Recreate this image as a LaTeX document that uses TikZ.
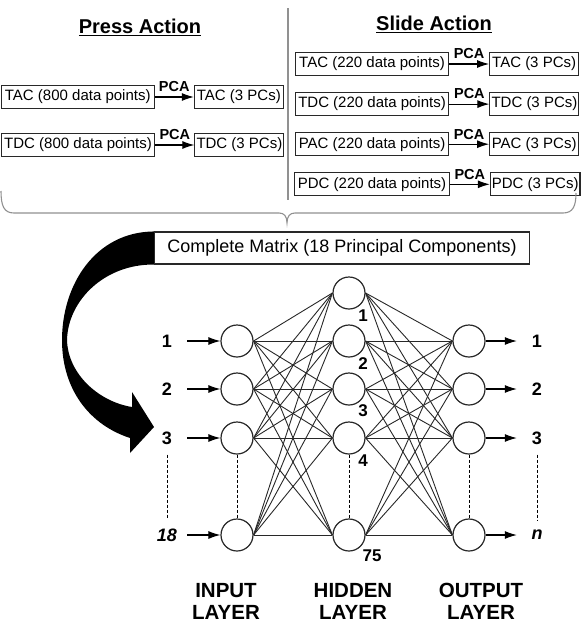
\documentclass[tikz,border=0pt]{standalone}
\usepackage{fontspec}
\setmainfont{Liberation Sans}
\usetikzlibrary{arrows.meta,positioning}
\definecolor{nnGrey}{RGB}{145,145,145}
\definecolor{nnDark}{RGB}{40,40,40}

\begin{document}
\begin{tikzpicture}[x=1pt,y=-1pt,
    every node/.style={font=\fontsize{15}{17}\selectfont},
    databox/.style={rectangle,draw=nnDark,line width=1.1pt,minimum height=23pt,
                    inner xsep=3pt,inner ysep=0pt},
    rawbox/.style={databox,minimum width=153pt},
    pcbox/.style={databox,minimum width=89pt,inner xsep=1.5pt},
    pcalab/.style={font=\fontsize{14.5}{16}\selectfont\bfseries,inner sep=1pt},
    title/.style={font=\fontsize{20}{24}\selectfont\bfseries},
    neuron/.style={circle,draw=nnDark,line width=1.2pt,minimum size=32pt,inner sep=0pt},
    numlab/.style={font=\fontsize{18}{20}\selectfont\bfseries,inner sep=0pt,minimum width=40pt},
    hidlab/.style={font=\fontsize{17}{19}\selectfont\bfseries,inner sep=0pt},
    layerlab/.style={font=\fontsize{20.5}{22}\selectfont\bfseries,align=center},
    arr/.style={-{Latex[length=12pt,width=8pt]},line width=1.1pt},
    link/.style={line width=0.9pt,nnDark},
    dots/.style={line width=1pt,dash pattern=on 3pt off 2pt},
    divider/.style={nnGrey,line width=1.3pt}
  ]
  \useasboundingbox (0,0) rectangle (581,627);
  % Titles
  \node[title] (press) at (140,27) {\underline{Press Action}};
  \node[title] (slide) at (434,24) {\underline{Slide Action}};
  \draw[divider] (288,8) -- (288,200);
  % Press action rows
  \node[rawbox,anchor=west] (pTACraw) at (0.7,97) {TAC (800 data points)};
  \node[pcbox,right=39pt of pTACraw] (pTACpc) {TAC (3 PCs)};
  \node[rawbox,anchor=west] (pTDCraw) at (0.7,145) {TDC (800 data points)};
  \node[pcbox,right=39pt of pTDCraw] (pTDCpc) {TDC (3 PCs)};
  % Slide action rows
  \node[rawbox,anchor=west] (sTACraw) at (295,64) {TAC (220 data points)};
  \node[pcbox,right=40pt of sTACraw] (sTACpc) {TAC (3 PCs)};
  \node[rawbox,below=16pt of sTACraw] (sTDCraw) {TDC (220 data points)};
  \node[pcbox,right=40pt of sTDCraw] (sTDCpc) {TDC (3 PCs)};
  \node[rawbox,below=16pt of sTDCraw] (sPACraw) {PAC (220 data points)};
  \node[pcbox,right=40pt of sPACraw] (sPACpc) {PAC (3 PCs)};
  \node[rawbox,below=16pt of sPACraw] (sPDCraw) {PDC (220 data points)};
  \node[pcbox,right=40pt of sPDCraw] (sPDCpc) {PDC (3 PCs)};
  % PCA arrows
  \draw[arr] (pTACraw) -- node[pcalab,above=3.5pt] {PCA} (pTACpc);
  \draw[arr] (pTDCraw) -- node[pcalab,above=3.5pt] {PCA} (pTDCpc);
  \draw[arr] (sTACraw) -- node[pcalab,above=3.5pt] {PCA} (sTACpc);
  \draw[arr] (sTDCraw) -- node[pcalab,above=3.5pt] {PCA} (sTDCpc);
  \draw[arr] (sPACraw) -- node[pcalab,above=3.5pt] {PCA} (sPACpc);
  \draw[arr] (sPDCraw) -- node[pcalab,above=3.5pt] {PCA} (sPDCpc);
  % Brace
  \draw[nnGrey,line width=1.1pt] (1,191) .. controls (1,206) and (4,213) .. (14,213)
    -- (279,213) .. controls (284,213) and (287,216) .. (287,223)
    .. controls (287,216) and (290,213) .. (295,213)
    -- (563,213) .. controls (573,213) and (576,206) .. (576,193);
  % Complete matrix
  \node[databox,minimum width=375pt,minimum height=32pt,
        font=\fontsize{18}{20}\selectfont] (matrix) at (342,248)
        {Complete Matrix (18 Principal Components)};
  \fill (matrix.north west) .. controls (95,232) and (62,285) .. (62,340)
    .. controls (62,390) and (90,425) .. (130,438)
    -- (130,453) -- (154,427) -- (132,392) -- (132,407)
    .. controls (100,402) and (68,375) .. (67,340)
    .. controls (68,300) and (105,264) .. (matrix.south west) -- cycle;
  % Input layer
  \node[neuron] (in1) at (237,341) {};
  \node[neuron] (in2) at (237,389) {};
  \node[neuron] (in3) at (237,438) {};
  \node[neuron] (in18) at (237,535) {};
  % Hidden layer
  \node[neuron] (hid1) at (349,293) {};
  \node[neuron] (hid2) at (349,341) {};
  \node[neuron] (hid3) at (349,389) {};
  \node[neuron] (hid4) at (349,438) {};
  \node[neuron] (hid75) at (349,535) {};
  % Output layer
  \node[neuron] (out1) at (469,341) {};
  \node[neuron] (out2) at (469,389) {};
  \node[neuron] (out3) at (469,438) {};
  \node[neuron] (outn) at (469,535) {};
  % Links
  \foreach \i in {in1,in2,in3,in18}
    \foreach \j in {hid1,hid2,hid3,hid4,hid75}
      \draw[link] (\i.east) -- (\j.west);
  \foreach \i in {hid1,hid2,hid3,hid4,hid75}
    \foreach \j in {out1,out2,out3,outn}
      \draw[link] (\i.east) -- (\j.west);
  % Labels
  \node[numlab] (inl1) at (167,341) {1};
  \node[numlab] (inl2) at (167,389) {2};
  \node[numlab] (inl3) at (167,438) {3};
  \node[numlab] (inl18) at (167,535) {\itshape 18};
  \node[numlab] (outl1) at (537,341) {1};
  \node[numlab] (outl2) at (537,389) {2};
  \node[numlab] (outl3) at (537,438) {3};
  \node[numlab] (outln) at (537,535) {\itshape n};
  \node[hidlab] (hl1) at (363,316) {1};
  \node[hidlab] (hl2) at (363,364) {2};
  \node[hidlab] (hl3) at (363,411) {3};
  \node[hidlab] (hl4) at (363,461) {4};
  \node[hidlab] (hl75) at (372,556) {75};
  \draw[arr] (inl1) -- (in1);
  \draw[arr] (inl2) -- (in2);
  \draw[arr] (inl3) -- (in3);
  \draw[arr] (inl18) -- (in18);
  \draw[arr] (out1) -- (outl1);
  \draw[arr] (out2) -- (outl2);
  \draw[arr] (out3) -- (outl3);
  \draw[arr] (outn) -- (outln);
  % Dotted gaps
  \draw[dots,shorten <=10pt,shorten >=10pt] (inl3) -- (inl18);
  \draw[dots] (in3) -- (in18);
  \draw[dots] (hid4) -- (hid75);
  \draw[dots] (out3) -- (outn);
  \draw[dots,shorten <=10pt,shorten >=10pt] (outl3) -- (outln);
  % Layer names
  \node[layerlab] (inname) at (226,601) {INPUT\\LAYER};
  \node[layerlab] (hidname) at (353,601) {HIDDEN\\LAYER};
  \node[layerlab] (outname) at (481,601) {OUTPUT\\LAYER};
\end{tikzpicture}
\end{document}
